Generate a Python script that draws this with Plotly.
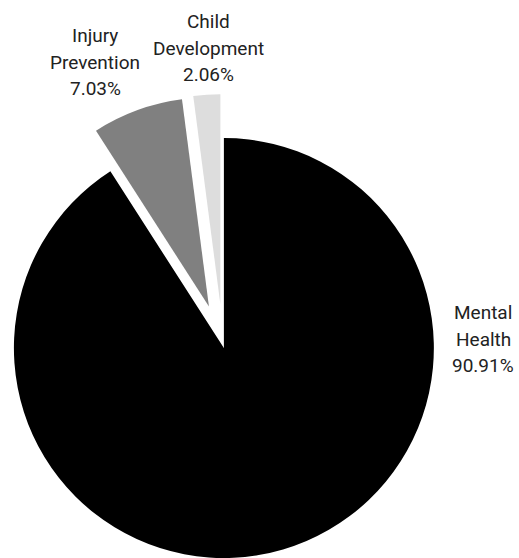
import numpy as np
import plotly.graph_objects as go

# ---- data ----
categories = ["Mental Health", "Injury Prevention", "Child Development"]
name_lines = [["Mental", "Health"], ["Injury", "Prevention"], ["Child", "Development"]]
values = [90.91, 7.03, 2.06]

# ---- styles ----
colors = ["#000000", "#808080", "#dddddd"]
pulls = [0.015, 0.195, 0.195]
FONT = "Roboto, Liberation Sans, sans-serif"
FONT_SIZE = 19
LINE_PITCH = 26.5

W, H = 519, 558
R = 210            # pie radius in px
CX, CY = 223, 345  # pie centre in px (from top-left)

vals = np.array(values, dtype=float)
edges = np.concatenate([[0.0], np.cumsum(vals)]) / vals.sum() * 360.0
mids = (edges[:-1] + edges[1:]) / 2.0  # degrees clockwise from 12 o'clock

fig = go.Figure()
for i in range(len(values)):
    th = np.deg2rad(mids[i])
    cx = CX + pulls[i] * R * np.sin(th)
    cy = CY - pulls[i] * R * np.cos(th)
    r = min(R, cx, W - cx, cy, H - cy)
    fig.add_trace(go.Pie(
        values=values,
        labels=categories,
        sort=False,
        direction="clockwise",
        rotation=0,
        marker=dict(colors=[colors[j] if j == i else "rgba(0,0,0,0)" for j in range(len(values))],
                    line=dict(width=0)),
        textinfo="none",
        hoverinfo="skip",
        showlegend=False,
        domain=dict(x=[(cx - r) / W, (cx + r) / W], y=[1 - (cy + r) / H, 1 - (cy - r) / H]),
    ))

# label placements (px: centre x, centre of first line y)
label_pos = [(483, 312.5), (95, 35.5), (208.5, 21.5)]
annotations = []
for i in range(len(values)):
    px, py = label_pos[i]
    lines = name_lines[i] + [f"{values[i]:.2f}%"]
    for k, line in enumerate(lines):
        annotations.append(dict(
            x=px / W, y=1 - (py + k * LINE_PITCH) / H, xref="paper", yref="paper",
            xanchor="center", yanchor="middle", showarrow=False, align="center",
            text=line,
            font=dict(family=FONT, size=FONT_SIZE, color="#222222"),
        ))

fig.update_layout(
    width=W, height=H,
    margin=dict(l=0, r=0, t=0, b=0),
    paper_bgcolor="white", plot_bgcolor="white",
    annotations=annotations,
    showlegend=False,
)

fig.write_html("out.html", config={"displayModeBar": False},
               post_script="document.body.style.margin='0px';")
